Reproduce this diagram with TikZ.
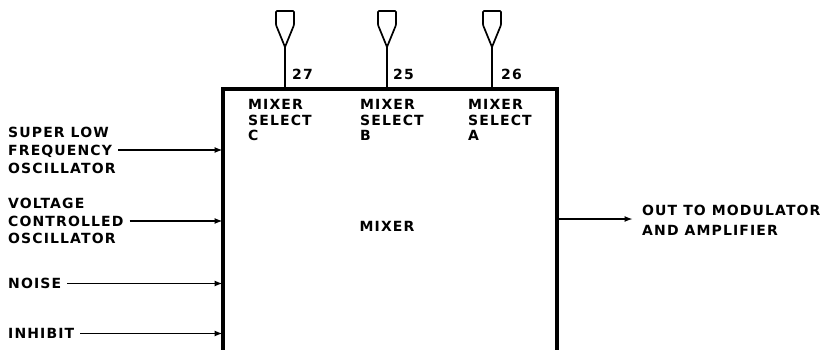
\documentclass[tikz,border=0pt]{standalone}
\usepackage{fontspec}
\setmainfont{DejaVu Sans}[LetterSpace=8]
\usetikzlibrary{arrows.meta}

\newcommand{\lblfont}{\fontsize{14}{15.6}\selectfont\bfseries}

\begin{document}
\begin{tikzpicture}[x=1pt, y=-1pt,
  lbl/.style={font=\lblfont, inner sep=0pt, text height=10pt, text depth=0pt, anchor=west},
  sel/.style={font=\lblfont, inner sep=0pt, align=left, anchor=north west},
  sig/.style={line width=1.9pt, -{Latex[length=8.5pt,width=6pt]}},
  pinhead/.style={line width=1.7pt, rounded corners=1pt},
  box/.style={line width=3.5pt}]
\useasboundingbox (0,0) rectangle (821,350);
% mixer box, open at the bottom
\coordinate (bSW) at (223,350);
\coordinate (bNW) at (223,89);
\coordinate (bNE) at (557,89);
\coordinate (bSE) at (557,350);
\draw[box] (bSW) -- (bNW) -- (bNE) -- (bSE);
\node[lbl, anchor=center] at (387,226.5) (mixer) {MIXER};
% select pins
\coordinate (p27) at (285,47);
\coordinate (p25) at (387,47);
\coordinate (p26) at (492,47);
\draw[pinhead] (276,11) -- (294,11) -- (294,25) -- (p27) -- (276,25) -- cycle;
\draw[pinhead] (378,11) -- (396,11) -- (396,25) -- (p25) -- (378,25) -- cycle;
\draw[pinhead] (483,11) -- (501,11) -- (501,25) -- (p26) -- (483,25) -- cycle;
\draw[line width=1.7pt] (p27) -- (p27 |- bNW);
\draw[line width=1.7pt] (p25) -- (p25 |- bNW);
\draw[line width=1.7pt] (p26) -- (p26 |- bNW);
\node[lbl] at (292,75) (n27) {27};
\node[lbl] at (393,75) (n25) {25};
\node[lbl] at (501,75) (n26) {26};
\node[sel] at (248,99) (selC) {MIXER\\SELECT\\C};
\node[sel] at (360,99) (selB) {MIXER\\SELECT\\B};
\node[sel] at (468,99) (selA) {MIXER\\SELECT\\A};
% inputs
\node[lbl] at (8,132) (slf1) {SUPER LOW};
\node[lbl] at (8,150) (slf2) {FREQUENCY};
\node[lbl] at (8,168) (slf3) {OSCILLATOR};
\node[lbl] at (8,203) (vco1) {VOLTAGE};
\node[lbl] at (8,221) (vco2) {CONTROLLED};
\node[lbl] at (8,238) (vco3) {OSCILLATOR};
\node[lbl] at (8,283.5) (noise) {NOISE};
\node[lbl] at (8,333.5) (inhibit) {INHIBIT};
\draw[sig, shorten <=6pt] (slf2) -- (slf2 -| bNW);
\draw[sig, shorten <=6pt] (vco2) -- (vco2 -| bNW);
\draw[sig, shorten <=6pt] (noise) -- (noise -| bNW);
\draw[sig, shorten <=6pt] (inhibit) -- (inhibit -| bNW);
% output
\node[lbl] at (642,210) (out1) {OUT TO MODULATOR};
\node[lbl] at (642,230) (out2) {AND AMPLIFIER};
\coordinate (outS) at (557,219);
\coordinate (outE) at (633,219);
\draw[sig] (outS) -- (outE);
\end{tikzpicture}
\end{document}
